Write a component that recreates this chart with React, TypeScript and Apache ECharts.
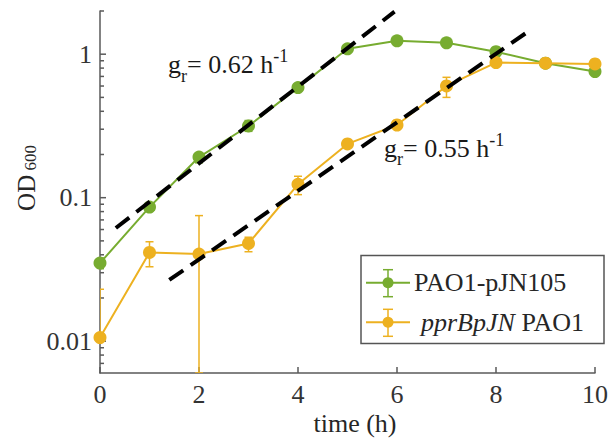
import React, { useEffect, useRef } from "react";
import * as echarts from "echarts";

// ---------- data ----------
const hours = [0, 1, 2, 3, 4, 5, 6, 7, 8, 9, 10];

const wtName = "PAO1-pJN105";
const wtOD = [0.035, 0.086, 0.192, 0.316, 0.585, 1.09, 1.24, 1.2, 1.04, 0.865, 0.757];
const wtLow = [0.032, 0.081, 0.175, 0.29, 0.56, 1.05, 1.2, 1.16, 1.0, 0.84, 0.73];
const wtHigh = [0.038, 0.091, 0.205, 0.345, 0.61, 1.13, 1.28, 1.24, 1.08, 0.89, 0.78];

const mutName = "pprBpJN PAO1";
const mutOD = [0.0106, 0.0415, 0.0405, 0.048, 0.124, 0.237, 0.321, 0.601, 0.874, 0.865, 0.856];
const mutLow = [null, 0.033, 0.006, 0.042, 0.105, 0.225, 0.3, 0.5, 0.84, 0.84, 0.83];
const mutHigh = [0.023, 0.0493, 0.075, 0.053, 0.141, 0.25, 0.345, 0.69, 0.91, 0.89, 0.88];

const fitWt = [
  [0.32, 0.0615],
  [5.95, 1.98],
];
const fitMut = [
  [1.4, 0.0267],
  [8.6, 1.4],
];
const rateWt = "0.62";
const rateMut = "0.55";

const xTicks = [0, 2, 4, 6, 8, 10];
const yMajorTicks = [0.01, 0.1, 1];
const yMinorTicks = [
  0.007, 0.008, 0.009, 0.02, 0.03, 0.04, 0.05, 0.06, 0.07, 0.08, 0.09, 0.2, 0.3, 0.4, 0.5, 0.6,
  0.7, 0.8, 0.9, 2,
];

// ---------- styles ----------
const GREEN = "#77AC30";
const ORANGE = "#EDB120";
const AXIS = "#5a5a5a";
const FONT = "'Liberation Serif', 'Times New Roman', serif";

function measure(text: string, size: number, style = "normal") {
  const c = document.createElement("canvas").getContext("2d");
  if (!c) return text.length * size * 0.5;
  c.font = `${style} ${size}px ${FONT}`;
  return c.measureText(text).width;
}

function rateLabel(x0: number, yMid: number, value: string) {
  const parts = [
    { t: "g", size: 26, dy: 0 },
    { t: "r", size: 18, dy: 11 },
    { t: "= " + value + " h", size: 26, dy: 0 },
    { t: "-1", size: 18, dy: -8.5 },
  ];
  let x = x0;
  const els: any[] = [];
  for (const p of parts) {
    els.push({
      type: "text",
      x,
      y: yMid + p.dy,
      z: 50,
      style: {
        text: p.t,
        fontSize: p.size,
        fontFamily: FONT,
        fill: "#1a1a1a",
        align: "left",
        verticalAlign: "middle",
      },
    });
    x += measure(p.t, p.size);
  }
  return els;
}

function legendEntry(yc: number, color: string, label: any) {
  const cx = 388;
  return [
    { type: "line", z: 101, shape: { x1: 366, y1: yc, x2: 410, y2: yc }, style: { stroke: color, lineWidth: 2 } },
    { type: "line", z: 101, shape: { x1: cx, y1: yc - 13, x2: cx, y2: yc + 14 }, style: { stroke: color, lineWidth: 1.5 } },
    { type: "line", z: 101, shape: { x1: cx - 5, y1: yc - 13, x2: cx + 5, y2: yc - 13 }, style: { stroke: color, lineWidth: 1.5 } },
    { type: "line", z: 101, shape: { x1: cx - 5, y1: yc + 14, x2: cx + 5, y2: yc + 14 }, style: { stroke: color, lineWidth: 1.5 } },
    { type: "circle", z: 102, shape: { cx, cy: yc, r: 5.5 }, style: { fill: color } },
    { type: "text", z: 102, x: label.x, y: yc, style: { ...label.style, fontFamily: FONT, fontSize: 26, fill: "#262626", align: "left", verticalAlign: "middle" } },
  ];
}

function errorSeries(name: string, od: number[], low: (number | null)[], high: number[], color: string) {
  return {
    type: "custom",
    name: name + " err",
    silent: true,
    z: 2,
    clip: true,
    encode: { x: 0, y: [1, 2] },
    data: hours.map((h, i) => [h, low[i] ?? od[i], high[i]]),
    renderItem: (params: any, api: any) => {
      const x = api.value(0);
      const pLo = api.coord([x, api.value(1)]);
      const pHi = api.coord([x, api.value(2)]);
      const hw = 4;
      const st = { stroke: color, lineWidth: 1.5 };
      return {
        type: "group",
        children: [
          { type: "line", shape: { x1: pLo[0], y1: pLo[1], x2: pHi[0], y2: pHi[1] }, style: st },
          { type: "line", shape: { x1: pLo[0] - hw, y1: pLo[1], x2: pLo[0] + hw, y2: pLo[1] }, style: st },
          { type: "line", shape: { x1: pHi[0] - hw, y1: pHi[1], x2: pHi[0] + hw, y2: pHi[1] }, style: st },
        ],
      };
    },
  };
}

function buildOption() {
  return {
    animation: false,
    backgroundColor: "#fff",
    grid: { left: 100, right: 12, top: 11, bottom: 65, containLabel: false },
    xAxis: {
      type: "value",
      min: 0,
      max: 10,
      interval: 2,
      axisLine: { onZero: false, lineStyle: { color: AXIS, width: 1.5 } },
      axisTick: { inside: true, length: 6, lineStyle: { color: AXIS, width: 1.5 } },
      axisLabel: {
        fontSize: 26,
        fontFamily: FONT,
        color: "#333",
        margin: 8,
        formatter: (v: number) => (xTicks.includes(v) ? String(v) : ""),
      },
      splitLine: { show: false },
    },
    yAxis: {
      type: "log",
      logBase: 10,
      min: 0.006,
      max: 2,
      axisLine: { lineStyle: { color: AXIS, width: 1.5 } },
      axisTick: { show: false },
      axisLabel: {
        fontSize: 26,
        fontFamily: FONT,
        color: "#333",
        margin: 8,
        showMinLabel: false,
        showMaxLabel: false,
        formatter: (v: number) => {
          const m = yMajorTicks.find((t) => Math.abs(Math.log10(v) - Math.log10(t)) < 1e-6);
          return m !== undefined ? String(m) : "";
        },
      },
      splitLine: { show: false },
      minorSplitLine: { show: false },
    },
    series: [
      {
        type: "custom",
        name: "yticks",
        silent: true,
        z: 1,
        encode: { x: 0, y: 1 },
        data: [
          ...yMajorTicks.map((v) => [0, v, 6]),
          ...yMinorTicks.map((v) => [0, v, 4]),
        ],
        renderItem: (params: any, api: any) => {
          const p = api.coord([api.value(0), api.value(1)]);
          const len = api.value(2);
          return {
            type: "line",
            shape: { x1: p[0], y1: p[1], x2: p[0] + len, y2: p[1] },
            style: { stroke: AXIS, lineWidth: 1.5 },
          };
        },
      },
      errorSeries(wtName, wtOD, wtLow, wtHigh, GREEN),
      errorSeries(mutName, mutOD, mutLow, mutHigh, ORANGE),
      {
        type: "line",
        name: wtName,
        z: 3,
        data: hours.map((h, i) => [h, wtOD[i]]),
        symbol: "circle",
        symbolSize: 13,
        showAllSymbol: true,
        lineStyle: { color: GREEN, width: 2 },
        itemStyle: { color: GREEN },
      },
      {
        type: "line",
        name: mutName,
        z: 3,
        data: hours.map((h, i) => [h, mutOD[i]]),
        symbol: "circle",
        symbolSize: 13,
        showAllSymbol: true,
        lineStyle: { color: ORANGE, width: 2 },
        itemStyle: { color: ORANGE },
      },
      {
        type: "line",
        name: "fit wt",
        z: 5,
        silent: true,
        data: fitWt,
        symbol: "none",
        lineStyle: { color: "#000", width: 4, type: [17, 9], cap: "butt" },
      },
      {
        type: "line",
        name: "fit mut",
        z: 5,
        silent: true,
        data: fitMut,
        symbol: "none",
        lineStyle: { color: "#000", width: 4, type: [17, 9], cap: "butt" },
      },
    ],
    graphic: [
      ...rateLabel(168, 64.5, rateWt),
      ...rateLabel(384, 148.2, rateMut),
      {
        type: "text",
        x: 355,
        y: 423,
        style: { text: "time (h)", fontSize: 26, fontFamily: FONT, fill: "#262626", align: "center", verticalAlign: "middle" },
      },
      {
        type: "text",
        x: 26,
        y: 178,
        rotation: Math.PI / 2,
        style: {
          text: "{a|OD}{b| 600}",
          align: "center",
          verticalAlign: "middle",
          fill: "#262626",
          rich: {
            a: { fontSize: 25, fontFamily: FONT, fill: "#262626" },
            b: { fontSize: 17, fontFamily: FONT, fill: "#262626", verticalAlign: "bottom" },
          },
        },
      },
      {
        type: "rect",
        z: 100,
        shape: { x: 361, y: 255.5, width: 243, height: 88 },
        style: { fill: "#fff", stroke: "#555", lineWidth: 1.5 },
      },
      ...legendEntry(282.7, GREEN, { x: 414, style: { text: wtName } }),
      ...legendEntry(322.3, ORANGE, {
        x: 421,
        style: {
          text: "{i|pprBpJN} PAO1",
          rich: { i: { fontStyle: "italic", fontSize: 26, fontFamily: FONT, fill: "#262626" } },
        },
      }),
    ],
  };
}

export default function App() {
  const ref = useRef<HTMLDivElement>(null);
  useEffect(() => {
    if (!ref.current) return;
    const chart = echarts.init(ref.current, null, { renderer: "svg" });
    chart.setOption(buildOption() as any);
    return () => chart.dispose();
  }, []);
  return (
    <div
      ref={ref}
      style={{ position: "absolute", left: 0, top: 0, width: 611, height: 438, background: "#fff" }}
    />
  );
}
